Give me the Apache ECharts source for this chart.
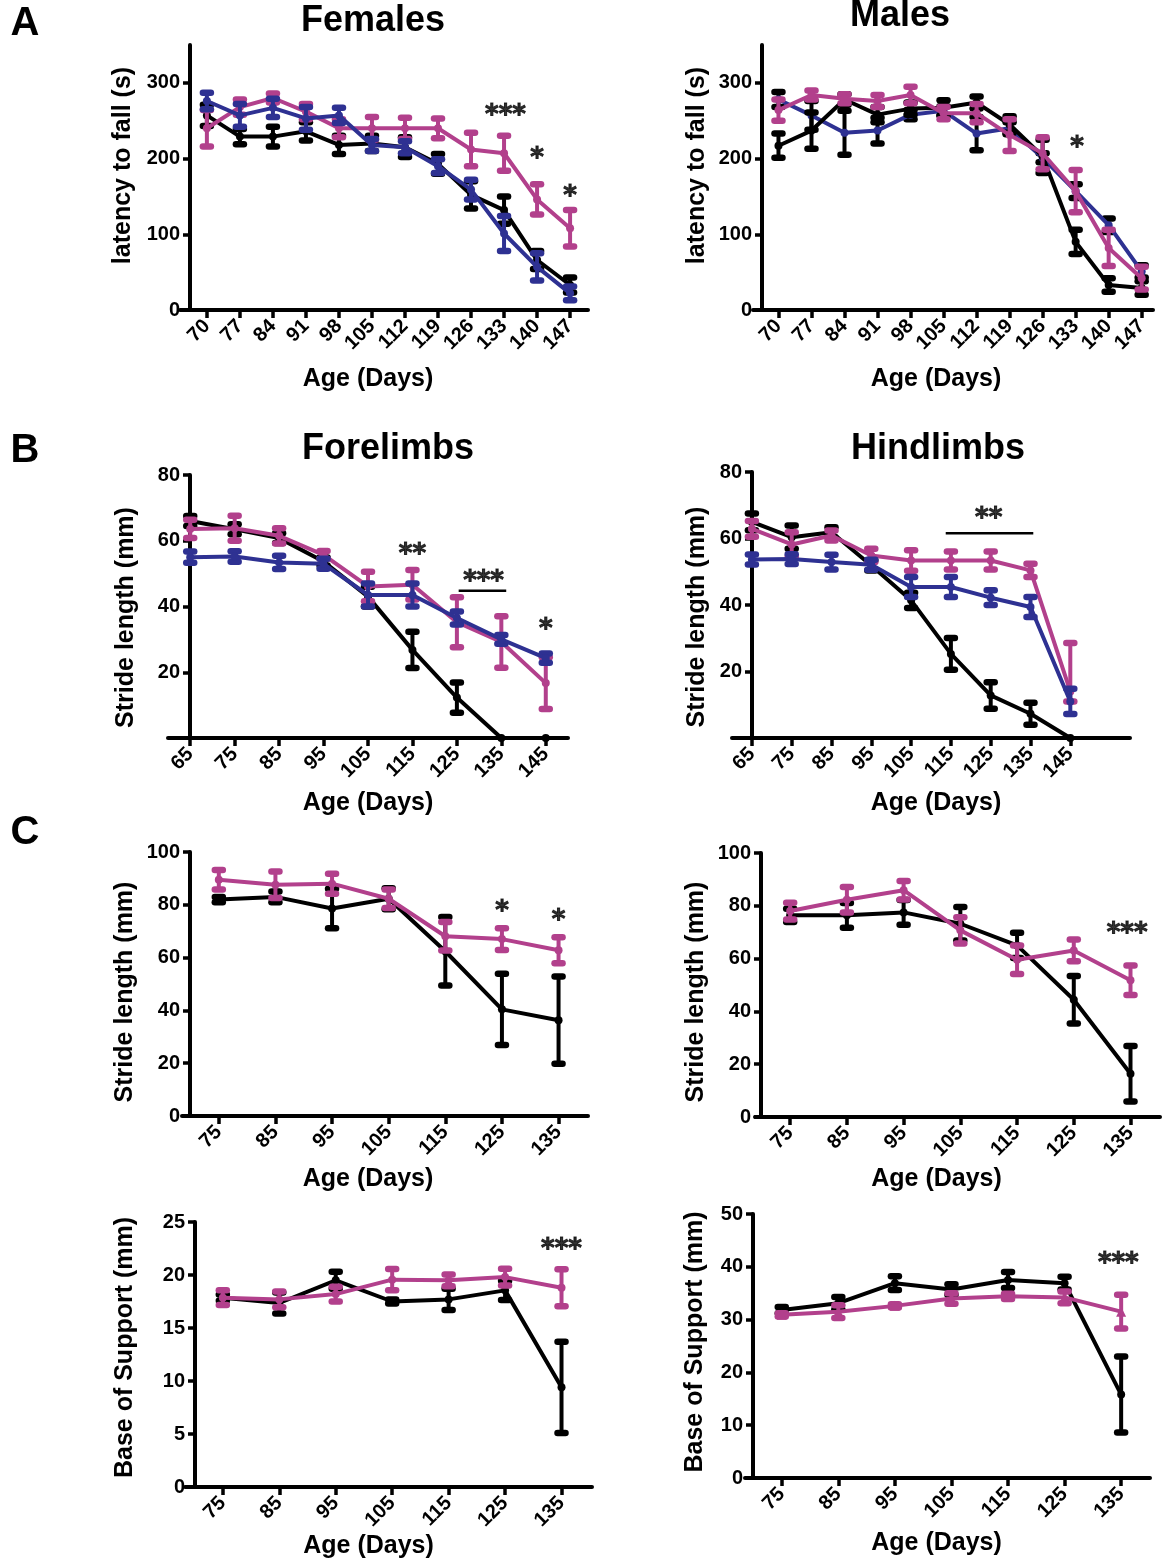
<!DOCTYPE html>
<html>
<head>
<meta charset="utf-8">
<script src="https://cdn.jsdelivr.net/npm/echarts@6/dist/echarts.min.js"></script>
<style>
  html, body { margin: 0; padding: 0; background: #fff; }
  #main { width: 1162px; height: 1560px; }
</style>
</head>
<body>
<div id="main"></div>
<script>
var chartDom = document.getElementById('main');
var myChart = echarts.init(chartDom, null, { renderer: 'canvas' });

var FONT = '"Liberation Sans", Arial, sans-serif';
var BLACK = '#000000';
var MAG = '#b2408c';
var BLUE = '#2e3192';

// ---- ages (x values) ----
var ageA = [70, 77, 84, 91, 98, 105, 112, 119, 126, 133, 140, 147];
var ageB = [65, 75, 85, 95, 105, 115, 125, 135, 145];
var ageC = [75, 85, 95, 105, 115, 125, 135];

// ---- A: latency to fall, females ----
var femBlack    = [257, 229, 229, 236, 218, 220, 215, 193, 152, 132, 66, 33];
var femBlackErr = [14, 10, 13, 12, 12, 10, 13, 13, 18, 18, 12, 10];
var femMag      = [240, 268, 280, 262, 240, 240, 240, 240, 212, 207, 146, 108];
var femMagErr   = [24, 10, 6, 10, 12, 15, 14, 13, 22, 23, 20, 24];
var femBlue     = [276, 257, 267, 253, 257, 218, 215, 190, 159, 101, 57, 22];
var femBlueErr  = [11, 15, 12, 15, 10, 8, 8, 9, 13, 23, 18, 9];

// ---- A: latency to fall, males ----
var maleBlack    = [217, 237, 278, 258, 266, 267, 274, 245, 203, 90, 33, 29];
var maleBlackErr = [16, 24, 7, 10, 8, 10, 8, 11, 22, 16, 9, 9];
var maleMag      = [264, 284, 279, 276, 284, 260, 260, 231, 207, 157, 82, 42];
var maleMagErr   = [14, 6, 6, 8, 11, 8, 12, 21, 21, 28, 24, 15];
var maleBlue     = [278, 257, 234, 237, 258, 263, 233, 240, 201, 157, 112, 51];
var maleBlueErr  = [10, 19, 29, 17, 6, 6, 22, 8, 6, 9, 9, 8];

// ---- B: stride length, forelimbs ----
var foreBlack    = [66, 63.5, 60.8, 53.7, 43, 26.8, 12.3, 0, 0];
var foreBlackErr = [1.5, 1.5, 1.5, 1.2, 3, 5.5, 4.6, 0, 0];
var foreMag      = [63.6, 63.8, 61.5, 55.7, 46.1, 46.6, 35.2, 29.2, 16.7];
var foreMagErr   = [2.8, 3.8, 2.3, 1.2, 4.5, 4.5, 7.6, 7.8, 7.9];
var foreBlue     = [55, 55.2, 53.4, 53, 43.5, 43.5, 36.5, 30, 24.3];
var foreBlueErr  = [1.7, 1.6, 2, 1.5, 3.5, 3.5, 2, 1.3, 1.4];

// ---- B: stride length, hindlimbs ----
var hindBlack    = [65, 60.4, 61.9, 51.9, 41.4, 25.3, 12.8, 7.3, 0];
var hindBlackErr = [2.5, 3.5, 1.5, 1.5, 2.3, 4.8, 4, 3.3, 0];
var hindMag      = [62.9, 58.2, 60.9, 54.9, 53.4, 53.4, 53.4, 50.4, 14];
var hindMagErr   = [2.4, 3.7, 1.5, 2, 3.1, 2.7, 2.7, 2, 14.6];
var hindMagErrLow = [2.4, 3.7, 1.5, 2, 3.1, 2.7, 2.7, 2, 3];
var hindBlue     = [53.7, 53.8, 52.9, 52.1, 45.4, 45.4, 42.2, 39.4, 11];
var hindBlueErr  = [1.5, 1.5, 2.2, 1.5, 3, 3, 2.2, 3, 3.8];

// ---- C: stride length ----
var strideLBlack    = [82, 83, 78.6, 82.3, 62.4, 40.4, 36.3];
var strideLBlackErr = [1, 2, 7.5, 4, 13, 13.5, 16.5];
var strideLMag      = [89.5, 87.6, 88, 82.3, 68.1, 67, 62.8];
var strideLMagErr   = [3.7, 5, 3.8, 3.5, 5.4, 4.1, 4.9];
var strideRBlack    = [76.4, 76.4, 77.5, 73.2, 65, 44.4, 16.4];
var strideRBlackErr = [2.5, 4.7, 4.7, 6.3, 4.8, 9, 10.5];
var strideRMag      = [78, 82.3, 85.9, 70.7, 59.6, 63.1, 51.8];
var strideRMagErr   = [3.2, 4.8, 3.5, 5, 5.4, 4.1, 5.6];

// ---- C: base of support ----
var bosLBlack    = [17.86, 17.36, 19.5, 17.5, 17.7, 18.55, 9.4];
var bosLBlackErr = [0.3, 1, 0.8, 0.2, 1, 0.9, 4.3];
var bosLMag      = [17.86, 17.7, 18.2, 19.56, 19.5, 19.8, 18.8];
var bosLMagErr   = [0.7, 0.75, 0.7, 1, 0.55, 0.8, 1.75];
var bosRBlack    = [31.8, 33.1, 36.9, 35.7, 37.5, 36.9, 15.8];
var bosRBlackErr = [0.6, 1.2, 1.3, 1, 1.5, 1.2, 7.2];
var bosRMag      = [30.9, 31.5, 32.6, 34, 34.4, 34.2, 31.5];
var bosRMagErr   = [0.3, 1.2, 0.3, 1, 0.5, 1.1, 3.2];

// ---- significance marks [x, y, text] and brackets [x1, x2, y] ----
var femStars   = [[133.3, 263, '***'], [140, 206, '*'], [147, 156, '*']];
var maleStars  = [[133.3, 220, '*']];
var foreStars  = [[115, 57, '**'], [131, 49, '***'], [145, 34.4, '*']];
var foreBrackets = [[125.4, 136.1, 44.8]];
var hindStars  = [[124.5, 67.2, '**']];
var hindBrackets = [[113.7, 135.7, 61.6]];
var strideLStars = [[125, 79.2, '*'], [135, 75.7, '*']];
var strideRStars = [[134.4, 71.1, '***']];
var bosLStars  = [[135, 22.8, '***']];
var bosRStars  = [[134.5, 41.4, '***']];

var panels = [
    { rect: { left: 180, top: 45, width: 408, height: 265 }, xMin: 64.3, xMax: 150.8, xTicks: ageA,
      yMax: 350, yTicks: [0, 100, 200, 300], yOff: -10, yName: 'latency to fall (s)', yGap: 54, yShift: -12, xGap: 57, xShift: -16,
      groups: [
          { age: ageA, mean: femBlack, err: femBlackErr, color: BLACK },
          { age: ageA, mean: femMag, err: femMagErr, color: MAG },
          { age: ageA, mean: femBlue, err: femBlueErr, color: BLUE }
      ], stars: femStars, brackets: [] },
    { rect: { left: 753, top: 45, width: 400, height: 265 }, xMin: 64.6, xMax: 149.4, xTicks: ageA,
      yMax: 350, yTicks: [0, 100, 200, 300], yOff: -9, yName: 'latency to fall (s)', yGap: 52, yShift: -12, xGap: 57, xShift: -17,
      groups: [
          { age: ageA, mean: maleBlue, err: maleBlueErr, color: BLUE, errColor: BLACK },
          { age: ageA, mean: maleBlack, err: maleBlackErr, color: BLACK },
          { age: ageA, mean: maleMag, err: maleMagErr, color: MAG }
      ], stars: maleStars, brackets: [] },
    { rect: { left: 168, top: 475, width: 400, height: 263 }, xMin: 60, xMax: 150, xTicks: ageB,
      yMax: 80, yTicks: [20, 40, 60, 80], yOff: -22, yName: 'Stride length (mm)', yGap: 51, yShift: 11, xGap: 53, xShift: 0,
      groups: [
          { age: ageB, mean: foreBlack, err: foreBlackErr, color: BLACK },
          { age: ageB, mean: foreMag, err: foreMagErr, color: MAG },
          { age: ageB, mean: foreBlue, err: foreBlueErr, color: BLUE }
      ], stars: foreStars, brackets: foreBrackets },
    { rect: { left: 732, top: 472, width: 398, height: 266 }, xMin: 60, xMax: 160, xTicks: ageB,
      yMax: 80, yTicks: [20, 40, 60, 80], yOff: -20, yName: 'Stride length (mm)', yGap: 42, yShift: 12, xGap: 53, xShift: 5,
      groups: [
          { age: ageB, mean: hindBlack, err: hindBlackErr, color: BLACK },
          { age: ageB, mean: hindMag, err: hindMagErr, errLow: hindMagErrLow, color: MAG },
          { age: ageB, mean: hindBlue, err: hindBlueErr, color: BLUE }
      ], stars: hindStars, brackets: hindBrackets },
    { rect: { left: 182, top: 852, width: 406, height: 264 }, xMin: 68.5, xMax: 140.2, xTicks: ageC,
      yMax: 100, yTicks: [0, 20, 40, 60, 80, 100], yOff: -8, yName: 'Stride length (mm)', yGap: 52, yShift: 8, xGap: 51, xShift: -17,
      groups: [
          { age: ageC, mean: strideLBlack, err: strideLBlackErr, color: BLACK },
          { age: ageC, mean: strideLMag, err: strideLMagErr, color: MAG }
      ], stars: strideLStars, brackets: [] },
    { rect: { left: 755, top: 853, width: 405, height: 264 }, xMin: 68.8, xMax: 140.2, xTicks: ageC,
      yMax: 100, yTicks: [0, 20, 40, 60, 80, 100], yOff: -6, yName: 'Stride length (mm)', yGap: 52, yShift: 7, xGap: 50, xShift: -21,
      groups: [
          { age: ageC, mean: strideRBlack, err: strideRBlackErr, color: BLACK },
          { age: ageC, mean: strideRMag, err: strideRMagErr, color: MAG }
      ], stars: strideRStars, brackets: [] },
    { rect: { left: 185, top: 1222, width: 407, height: 265 }, xMin: 68.3, xMax: 140.4, xTicks: ageC,
      yMax: 25, yTicks: [0, 5, 10, 15, 20, 25], yOff: -10, yName: 'Base of Support (mm)', yGap: 57, yShift: -7, xGap: 44, xShift: -20,
      groups: [
          { age: ageC, mean: bosLBlack, err: bosLBlackErr, color: BLACK },
          { age: ageC, mean: bosLMag, err: bosLMagErr, color: MAG }
      ], stars: bosLStars, brackets: [] },
    { rect: { left: 745, top: 1214, width: 405, height: 264 }, xMin: 68.5, xMax: 140.1, xTicks: ageC,
      yMax: 50, yTicks: [0, 10, 20, 30, 40, 50], yOff: -8, yName: 'Base of Support (mm)', yGap: 45, yShift: -4, xGap: 53, xShift: -11,
      groups: [
          { age: ageC, mean: bosRBlack, err: bosRBlackErr, color: BLACK },
          { age: ageC, mean: bosRMag, err: bosRMagErr, color: MAG, symbol: 'triangle' }
      ], stars: bosRStars, brackets: [] }
];

// error bar: stem + two rounded caps (value 2 = up, value 3 = down)
function errRender(params, api) {
    var x = api.value(0), y = api.value(1);
    var top = api.coord([x, y + api.value(2)]);
    var bot = api.coord([x, y - api.value(3)]);
    var color = api.visual('color');
    var w = 4;
    return {
        type: 'group',
        children: [
            { type: 'line', shape: { x1: top[0], y1: top[1], x2: bot[0], y2: bot[1] },
              style: { stroke: color, lineWidth: 4 } },
            { type: 'line', shape: { x1: top[0] - w, y1: top[1], x2: top[0] + w, y2: top[1] },
              style: { stroke: color, lineWidth: 6.5, lineCap: 'round' } },
            { type: 'line', shape: { x1: bot[0] - w, y1: bot[1], x2: bot[0] + w, y2: bot[1] },
              style: { stroke: color, lineWidth: 6.5, lineCap: 'round' } }
        ]
    };
}

var grids = [], xAxes = [], yAxes = [], series = [];
var labelStyle = { color: '#000', fontFamily: FONT, fontWeight: 'bold', fontSize: 20 };
var nameStyle = { color: '#000', fontFamily: FONT, fontWeight: 'bold', fontSize: 25 };

panels.forEach(function (p, i) {
    grids.push({ left: p.rect.left, top: p.rect.top, width: p.rect.width, height: p.rect.height });
    xAxes.push({
        gridIndex: i, type: 'value', min: p.xMin, max: p.xMax,
        axisLine: { show: true, onZero: false, lineStyle: { color: '#000', width: 4 } },
        axisTick: { show: true, customValues: p.xTicks, length: 8, lineStyle: { color: '#000', width: 3.5 } },
        axisLabel: Object.assign({ customValues: p.xTicks, rotate: 45, margin: 13 }, labelStyle),
        splitLine: { show: false },
        name: 'Age (Days)', nameLocation: 'middle', nameGap: p.xGap,
        nameTextStyle: Object.assign({
            padding: p.xShift < 0 ? [0, -2 * p.xShift, 0, 0] : [0, 0, 0, 2 * p.xShift]
        }, nameStyle)
    });
    yAxes.push({
        gridIndex: i, type: 'value', min: 0, max: p.yMax, offset: p.yOff,
        axisLine: { show: true, onZero: false, lineStyle: { color: '#000', width: 4 } },
        axisTick: { show: true, customValues: p.yTicks, length: 7, lineStyle: { color: '#000', width: 3.5 } },
        axisLabel: Object.assign({ customValues: p.yTicks, margin: 10 }, labelStyle),
        splitLine: { show: false },
        name: p.yName, nameLocation: 'middle', nameRotate: 90, nameGap: p.yGap,
        nameTextStyle: Object.assign({
            padding: p.yShift < 0 ? [0, 0, 0, -2 * p.yShift] : [0, 2 * p.yShift, 0, 0]
        }, nameStyle)
    });
    p.groups.forEach(function (g, k) {
        var errData = [];
        var low = g.errLow || g.err;
        g.age.forEach(function (a, j) {
            if (g.err[j] > 0) errData.push([a, g.mean[j], g.err[j], low[j]]);
        });
        series.push({
            type: 'custom', xAxisIndex: i, yAxisIndex: i, renderItem: errRender,
            data: errData, encode: { x: 0, y: 1 }, silent: true, z: 2 + k,
            itemStyle: { color: g.errColor || g.color }
        });
        series.push({
            type: 'line', xAxisIndex: i, yAxisIndex: i, z: 2 + k,
            data: g.age.map(function (a, j) { return [a, g.mean[j]]; }),
            symbol: g.symbol || 'circle', symbolSize: g.symbol ? 10 : 8, showSymbol: true,
            itemStyle: { color: g.color }, lineStyle: { color: g.color, width: 4 }
        });
    });
    p.brackets.forEach(function (b) {
        series.push({
            type: 'line', xAxisIndex: i, yAxisIndex: i, z: 6, symbol: 'none',
            data: [[b[0], b[2]], [b[1], b[2]]],
            lineStyle: { color: '#000', width: 2.5 }
        });
    });
    series.push({
        type: 'scatter', xAxisIndex: i, yAxisIndex: i, z: 7, symbolSize: 0.1,
        itemStyle: { color: 'rgba(0,0,0,0)' },
        data: p.stars.map(function (s) { return { value: [s[0], s[1]], name: s[2] }; }),
        label: {
            show: true, position: 'inside', formatter: '{b}', offset: [0, 5],
            color: '#000', fontFamily: '"DejaVu Sans", sans-serif', fontWeight: 'bold', fontSize: 26,
            textBorderColor: '#000', textBorderWidth: 1
        }
    });
});

function bigText(txt, x, y, size) {
    return {
        type: 'text', x: x, y: y,
        style: { text: txt, fill: '#000', font: 'bold ' + size + 'px ' + FONT, textAlign: 'center', textVerticalAlign: 'middle' }
    };
}

var option = {
    animation: false,
    backgroundColor: '#fff',
    grid: grids,
    xAxis: xAxes,
    yAxis: yAxes,
    series: series,
    graphic: [
        bigText('A', 25, 24, 40),
        bigText('B', 25, 451, 40),
        bigText('C', 25, 833, 40),
        bigText('Females', 373, 21, 36),
        bigText('Males', 900, 16, 36),
        bigText('Forelimbs', 388, 449, 36),
        bigText('Hindlimbs', 938, 449, 36)
    ]
};
myChart.setOption(option);
</script>
</body>
</html>
